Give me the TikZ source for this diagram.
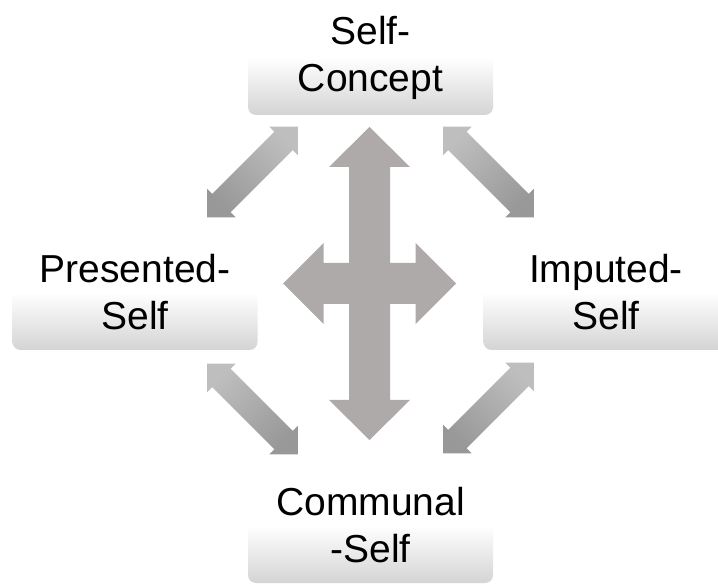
\documentclass[tikz,border=0pt]{standalone}
\usepackage{fontspec}
\setmainfont{Liberation Sans}
\usepackage{xcolor}
\usetikzlibrary{positioning}
\definecolor{crossgray}{HTML}{AEAAAA}
\definecolor{boxshade}{HTML}{D4D4D4}
\definecolor{arrowtop}{HTML}{BEBEBE}
\definecolor{arrowbot}{HTML}{989898}

\tikzset{
  selfbox/.style={rounded corners=8pt,minimum width=245pt,minimum height=115pt,
    top color=white,bottom color=boxshade,middle color=white,align=center,
    font=\fontsize{39}{47}\selectfont,inner sep=0pt},
  diagarrow/.style={top color=arrowtop,bottom color=arrowbot,shading angle=#1}
}

% double block arrow, centre and angle
\newcommand{\twoway}[2]{%
  \begin{scope}[shift={(#1)},rotate=#2]
    \path[diagarrow=-#2] (-64,0) -- (-44,-20) -- (-44,-13) -- (44,-13) -- (44,-20) -- (64,0)
      -- (44,20) -- (44,13) -- (-44,13) -- (-44,20) -- cycle;
  \end{scope}}

\begin{document}
\begin{tikzpicture}[x=1pt,y=1pt]
  \useasboundingbox (0,-585) rectangle (718,0);
  \node[selfbox] (concept) at (370.5,-57.5) {Self-\\Concept};
  \node[selfbox] (presented) at (135,-292.5) {Presented-\\Self};
  \node[selfbox] (imputed) at (606,-292.5) {Imputed-\\Self};
  \node[selfbox] (communal) at (370.5,-525.5) {Communal\\-Self};
  \coordinate (mid) at (369.5,-283.5);
  \coordinate (tl) at (252.5,-172);
  \coordinate (tr) at (488.5,-172);
  \coordinate (bl) at (252.5,-409);
  \coordinate (br) at (488.5,-408);

  % outer arrows
  \twoway{tl}{45}
  \twoway{tr}{-45}
  \twoway{bl}{-45}
  \twoway{br}{45}

  % central cross
  \fill[crossgray,shift={(mid)}] (0,156.5) -- (40.5,116.5) -- (20.5,116.5) -- (20.5,20.5)
    -- (46,20.5) -- (46,40.5) -- (86.5,0) -- (46,-40.5) -- (46,-20.5) -- (20.5,-20.5)
    -- (20.5,-116.5) -- (40.5,-116.5) -- (0,-156.5) -- (-40.5,-116.5) -- (-20.5,-116.5)
    -- (-20.5,-20.5) -- (-46,-20.5) -- (-46,-40.5) -- (-86.5,0) -- (-46,40.5)
    -- (-46,20.5) -- (-20.5,20.5) -- (-20.5,116.5) -- (-40.5,116.5) -- cycle;
\end{tikzpicture}
\end{document}
